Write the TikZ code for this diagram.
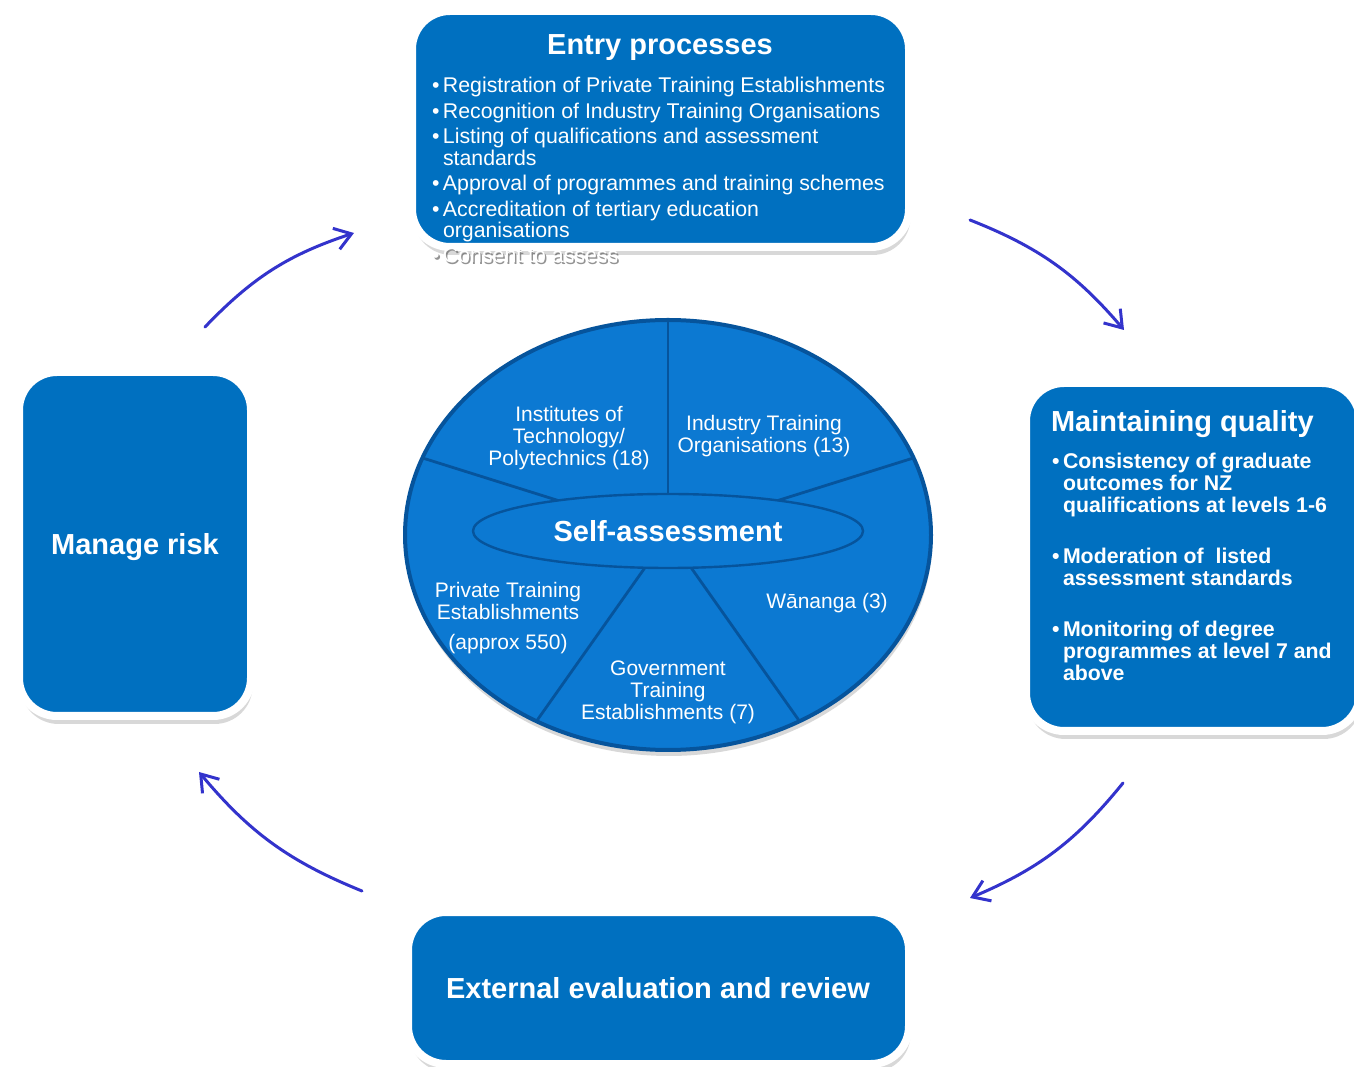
\documentclass[tikz,border=0pt]{standalone}
\usepackage{fontspec}
\setmainfont{Liberation Sans}
\usepackage{tikz}
\usetikzlibrary{shapes,shadows,arrows.meta}

\newcommand\pbul{\makebox[5.5pt][l]{\textbullet}}
\newcommand\pind{\hspace*{5.5pt}}

\begin{document}
\begin{tikzpicture}[x=0.5pt,y=0.5pt,
  box/.style={rectangle,rounded corners=19pt,fill=boxColor,draw=white,line width=4pt,inner sep=0pt,outer sep=0pt,
    drop shadow={opacity=0.3,shadow xshift=0.8pt,shadow yshift=-4pt}},
  title/.style={text=white,font=\bfseries\fontsize{14.5}{16}\selectfont,inner sep=0pt,outer sep=0pt},
  entryitem/.style={text=white,font=\fontsize{10.65}{10.9}\selectfont,align=left,inner sep=0pt,outer sep=0pt,anchor=base west},
  qualityitem/.style={text=white,font=\bfseries\fontsize{10.65}{11}\selectfont,align=left,inner sep=0pt,outer sep=0pt,anchor=base west},
  slice/.style={text=white,font=\fontsize{10.5}{11}\selectfont,align=center,inner sep=0pt,outer sep=0pt,anchor=base},
  cycle arrow/.style={draw=arrowColor,line width=1.5pt,line cap=round,-{Straight Barb[length=8pt,width=11pt]}}]
\definecolor{boxColor}{RGB}{0,112,192}
\definecolor{pieColor}{RGB}{12,121,210}
\definecolor{pieEdge}{RGB}{6,84,156}
\definecolor{arrowColor}{RGB}{51,51,204}

\path[use as bounding box,fill=white] (   0.00,   0.00) rectangle (1354.00,1066.00);
\clip (   0.00,   0.00) rectangle (1354.00,1066.00);

\node[box,minimum width=248.5pt,minimum height=118pt] (entry) at ( 660.50, 937.00) {};
\node[box,minimum width=167pt,minimum height=174pt] (quality) at (1193.00, 509.00) {};
\node[box,minimum width=116pt,minimum height=172pt] (risk) at ( 135.00, 522.00) {};
\node[box,minimum width=250.5pt,minimum height=76pt] (review) at ( 658.50,  78.00) {};

\node[title,anchor=base] (entryTitle) at ( 660.00,1011.00) {Entry processes};
\node[entryitem] (entryList) at ( 432.00, 828.00) {\pbul Registration of Private Training Establishments\\[1.8pt]
  \pbul Recognition of Industry Training Organisations\\[1.8pt]
  \pbul Listing of qualifications and assessment\\
  \pind standards\\[1.8pt]
  \pbul Approval of programmes and training schemes\\[1.8pt]
  \pbul Accreditation of tertiary education\\
  \pind organisations};
\node[entryitem,text=black!60,opacity=0.7] (consentShadow) at ( 433.50, 801.00) {\pbul Consent to assess};
\node[entryitem] (consent) at ( 432.00, 803.00) {\pbul Consent to assess};

\node[title,anchor=base west] (qualityTitle) at (1051.00, 634.00) {Maintaining quality};
\node[qualityitem] (qualityList) at (1052.00, 385.00) {\pbul Consistency of graduate\\
  \pind outcomes for NZ\\
  \pind qualifications at levels 1-6\\[14.7pt]
  \pbul Moderation of\ \ listed\\
  \pind assessment standards\\[14.7pt]
  \pbul Monitoring of degree\\
  \pind programmes at level 7 and\\
  \pind above};

\node[title,anchor=base] (riskText) at ( 135.00, 511.00) {Manage risk};
\node[title,anchor=base] (reviewText) at ( 658.00,  68.00) {External evaluation and review};

\node[ellipse,minimum width=263pt,minimum height=215pt,inner sep=0pt,fill=pieColor,draw=pieEdge,line width=2pt,
  drop shadow={opacity=0.3,shadow xshift=0.5pt,shadow yshift=-3pt}] (pie) at ( 668.00, 531.00) {};
\foreach \a in {21,90,159,240,300}
  \draw[pieEdge,line width=1.4pt] (pie.center) -- ++(\a:131.5pt and 107.5pt);
\node[ellipse,minimum width=195pt,minimum height=37pt,inner sep=0pt,fill=pieColor,draw=pieEdge,line width=1.2pt,
  title] (self) at ( 668.00, 535.00) {Self-assessment};

\node[slice] (itp) at ( 569.00, 600.00) {Institutes of\\Technology/\\Polytechnics (18)};
\node[slice] (ito) at ( 764.00, 613.00) {Industry Training\\Organisations (13)};
\node[slice] (pte) at ( 508.00, 416.00) {Private Training\\Establishments\\[4pt](approx 550)};
\node[slice] (wananga) at ( 827.00, 457.00) {Wānanga (3)};
\node[slice] (gte) at ( 668.00, 346.00) {Government\\Training\\Establishments (7)};

\coordinate (riskOut) at ( 205.00, 739.00);
\coordinate (entryIn) at ( 354.00, 833.00);
\coordinate (entryOut) at ( 970.00, 846.00);
\coordinate (qualityIn) at (1124.00, 736.00);
\coordinate (qualityOut) at (1123.00, 283.00);
\coordinate (reviewIn) at ( 970.00, 168.00);
\coordinate (reviewOut) at ( 362.00, 175.00);
\coordinate (riskIn) at ( 199.00, 294.00);

\draw[cycle arrow] (riskOut) to[bend left=14] (entryIn);
\draw[cycle arrow] (entryOut) to[bend left=14] (qualityIn);
\draw[cycle arrow] (qualityOut) to[bend left=14] (reviewIn);
\draw[cycle arrow] (reviewOut) to[bend left=14] (riskIn);
\end{tikzpicture}
\end{document}
